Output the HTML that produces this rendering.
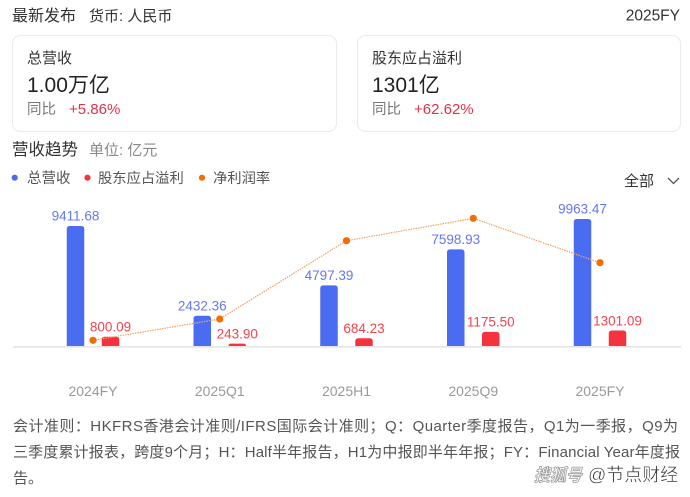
<!DOCTYPE html>
<html>
<head>
<meta charset="utf-8">
<style>
  html, body { margin:0; padding:0; background:#fff; }
  body { width:690px; height:497px; overflow:hidden; }
  svg { display:block; font-family:"Liberation Sans","Noto Sans CJK SC",sans-serif; }
</style>
</head>
<body>
<svg width="690" height="497" viewBox="0 0 690 497" xmlns="http://www.w3.org/2000/svg">
  <rect x="0" y="0" width="690" height="497" fill="#fff"/>

  <!-- header -->
  <text x="12" y="21" font-size="16" fill="#333">最新发布</text>
  <text x="89" y="21" font-size="15" fill="#333">货币: 人民币</text>
  <text x="680" y="20.5" font-size="15.5" fill="#333" text-anchor="end">2025FY</text>

  <!-- cards -->
  <rect x="12.5" y="35.5" width="324" height="96" rx="8" ry="8" fill="#fff" stroke="#ebebeb" stroke-width="1"/>
  <rect x="357.5" y="35.5" width="323" height="96" rx="8" ry="8" fill="#fff" stroke="#ebebeb" stroke-width="1"/>

  <text x="27" y="63" font-size="15" fill="#333">总营收</text>
  <text x="27" y="92" font-size="21" fill="#222">1.00万亿</text>
  <text x="27" y="114" font-size="14.5" fill="#777">同比</text>
  <text x="69" y="114" font-size="15" fill="#e8304a">+5.86%</text>

  <text x="372" y="63" font-size="15" fill="#333">股东应占溢利</text>
  <text x="372" y="92" font-size="21" fill="#222">1301亿</text>
  <text x="372" y="114" font-size="14.5" fill="#777">同比</text>
  <text x="414" y="114" font-size="15" fill="#e8304a">+62.62%</text>

  <!-- section title -->
  <text x="12" y="155" font-size="16.5" fill="#333">营收趋势</text>
  <text x="89" y="155" font-size="15" fill="#888">单位: 亿元</text>

  <!-- legend -->
  <circle cx="14.7" cy="177.7" r="3.1" fill="#4a6cf0"/>
  <text x="27" y="183" font-size="14.5" fill="#555">总营收</text>
  <circle cx="87.5" cy="177.7" r="3.1" fill="#f5333f"/>
  <text x="98" y="183" font-size="14.3" fill="#555">股东应占溢利</text>
  <circle cx="202" cy="177.7" r="3.1" fill="#f56c00"/>
  <text x="213" y="183" font-size="14.3" fill="#555">净利润率</text>

  <text x="624" y="186" font-size="15" fill="#333">全部</text>
  <polyline points="668,178 673.5,183.5 679,178" fill="none" stroke="#555" stroke-width="1.3"/>

  <!-- baseline -->
  <line x1="13" y1="346.8" x2="681" y2="346.8" stroke="#e4e4e4" stroke-width="1.6"/>

  <!-- blue bars -->
  <g fill="#4a6cf0">
    <path d="M66.75,346 V229 Q66.75,226 69.75,226 H81.25 Q84.25,226 84.25,229 V346 Z"/>
    <path d="M193.5,346 V318.8 Q193.5,315.8 196.5,315.8 H208 Q211,315.8 211,318.8 V346 Z"/>
    <path d="M320.25,346 V288.4 Q320.25,285.4 323.25,285.4 H334.75 Q337.75,285.4 337.75,288.4 V346 Z"/>
    <path d="M447,346 V252.4 Q447,249.4 450,249.4 H461.5 Q464.5,249.4 464.5,252.4 V346 Z"/>
    <path d="M573.75,346 V222 Q573.75,219 576.75,219 H588.25 Q591.25,219 591.25,222 V346 Z"/>
  </g>
  <!-- red bars -->
  <g fill="#f5333f">
    <path d="M101.75,346 V339.7 Q101.75,336.7 104.75,336.7 H116.25 Q119.25,336.7 119.25,339.7 V346 Z"/>
    <path d="M228.5,346 V346 Q228.5,343.6 231,343.6 H243.5 Q246,343.6 246,346 Z"/>
    <path d="M355.25,346 V341.2 Q355.25,338.2 358.25,338.2 H369.75 Q372.75,338.2 372.75,341.2 V346 Z"/>
    <path d="M482,346 V334.9 Q482,331.9 485,331.9 H496.5 Q499.5,331.9 499.5,334.9 V346 Z"/>
    <path d="M608.75,346 V333.5 Q608.75,330.5 611.75,330.5 H623.25 Q626.25,330.5 626.25,333.5 V346 Z"/>
  </g>

  <!-- net margin line -->
  <polyline points="93,340.3 219.75,319 346.5,240.7 473.25,218.3 600,262.7" fill="none" stroke="#f5a062" stroke-width="1.2" stroke-dasharray="1.5 1"/>
  <g fill="#f56c00">
    <circle cx="93" cy="340.3" r="3.6"/>
    <circle cx="219.75" cy="319" r="3.6"/>
    <circle cx="346.5" cy="240.7" r="3.6"/>
    <circle cx="473.25" cy="218.3" r="3.6"/>
    <circle cx="600" cy="262.7" r="3.6"/>
  </g>

  <!-- blue labels -->
  <g font-size="13.5" fill="#6478f5" text-anchor="middle">
    <text x="75.5" y="220.5">9411.68</text>
    <text x="202.25" y="310.5">2432.36</text>
    <text x="329" y="280">4797.39</text>
    <text x="455.75" y="244">7598.93</text>
    <text x="582.5" y="213.5">9963.47</text>
  </g>
  <!-- red labels -->
  <g font-size="13.5" fill="#f5434b" text-anchor="middle">
    <text x="110.5" y="331.5">800.09</text>
    <text x="237.25" y="338.5">243.90</text>
    <text x="364" y="333">684.23</text>
    <text x="490.75" y="326.5">1175.50</text>
    <text x="617.5" y="325.5">1301.09</text>
  </g>

  <!-- x labels -->
  <g font-size="14" fill="#999" text-anchor="middle">
    <text x="93" y="396">2024FY</text>
    <text x="219.75" y="396">2025Q1</text>
    <text x="346.5" y="396">2025H1</text>
    <text x="473.25" y="396">2025Q9</text>
    <text x="600" y="396">2025FY</text>
  </g>

  <!-- footnote -->
  <g font-size="15" fill="#555">
    <text x="13" y="431" textLength="665" lengthAdjust="spacing">会计准则：HKFRS香港会计准则/IFRS国际会计准则；Q：Quarter季度报告，Q1为一季报，Q9为</text>
    <text x="13" y="457" textLength="667" lengthAdjust="spacing">三季度累计报表，跨度9个月；H：Half半年报告，H1为中报即半年年报；FY：Financial Year年度报</text>
    <text x="13" y="483">告。</text>
  </g>

  <!-- watermark -->
  <text x="534" y="481" font-size="17" font-style="italic" font-weight="bold" fill="#fff" stroke="#9a9a9a" stroke-width="0.8" textLength="48" lengthAdjust="spacingAndGlyphs">搜狐号</text>
  <text x="588" y="481" font-size="18" fill="#333" stroke="#fff" stroke-width="0.4">@节点财经</text>
</svg>
</body>
</html>
